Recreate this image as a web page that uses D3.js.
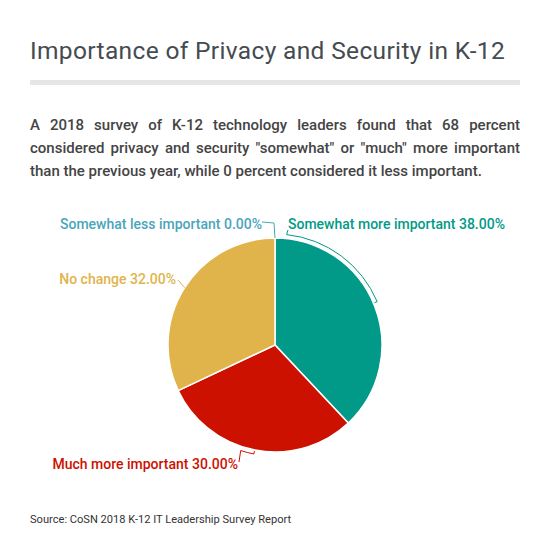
<!DOCTYPE html>
<html>
<head>
<meta charset="utf-8">
<script src="https://cdn.jsdelivr.net/npm/d3@7"></script>
<style>
  body { margin: 0; background: #fff; font-family: Roboto, sans-serif; }
  #wrap { position: relative; width: 550px; height: 560px; }
  #title { position: absolute; left: 30px; top: 36px; font-size: 24.5px; font-weight: 400; letter-spacing: 0.35px; color: #454b51; white-space: nowrap; }
  #rule { position: absolute; left: 30px; top: 80px; width: 490px; height: 5px; background: #e6e6e6; }
  #desc { position: absolute; left: 30px; top: 114px; width: 490px; font-size: 15px; font-weight: 500; line-height: 23px; color: #444; text-align: justify; }
  #source { position: absolute; left: 30px; top: 513px; font-size: 11.1px; color: #333; }
  #chart { position: absolute; left: 0; top: 0; }
</style>
</head>
<body>
<div id="wrap">
  <div id="title">Importance of Privacy and Security in K-12</div>
  <div id="rule"></div>
  <div id="desc">A 2018 survey of K-12 technology leaders found that 68 percent considered privacy and security "somewhat" or "much" more important than the previous year, while 0 percent considered it less important.</div>
  <svg id="chart" width="550" height="560"></svg>
  <div id="source">Source: CoSN 2018 K-12 IT Leadership Survey Report</div>
</div>
<script>
document.addEventListener("DOMContentLoaded", function () {
  // data
  const categories = ["Somewhat more important", "Much more important", "No change", "Somewhat less important"];
  const values = [38, 30, 32, 0];
  const colors = ["#019a88", "#cc1100", "#e0b44b", "#4aa5bb"];

  const cx = 275, cy = 345, radius = 107;

  const svg = d3.select("#chart");
  const g = svg.append("g").attr("transform", `translate(${cx},${cy})`);

  const pie = d3.pie().sort(null).value((d) => d.value);
  const arcs = pie(categories.map((c, i) => ({ name: c, value: values[i], color: colors[i] })));

  const arc = d3.arc().innerRadius(0).outerRadius(radius);

  g.selectAll("path.slice")
    .data(arcs.filter((d) => d.data.value > 0))
    .enter()
    .append("path")
    .attr("class", "slice")
    .attr("d", arc)
    .attr("fill", (d) => d.data.color)
    .attr("stroke", "#fff")
    .attr("stroke-width", 1.5);

  const deg = Math.PI / 180;
  const pt = (a, r) => [r * Math.sin(a), -r * Math.cos(a)];

  // label placement per slice: text anchor point and leader style
  const layout = [
    { x: 288, y: 229, anchor: "start", bracket: [6, 67] },
    { x: 238, y: 469, anchor: "end", bracket: [191, 198], end: "left" },
    { x: 176, y: 284, anchor: "end", line: true },
    { x: 262, y: 229, anchor: "end", elbow: true }
  ];

  arcs.forEach((d, i) => {
    const L = layout[i];
    const color = d.data.color;
    const lx = L.x - cx, ly = L.y - cy;
    let path = "";
    if (L.bracket) {
      const r = radius + 4;
      const a1 = L.bracket[0] * deg, a2 = L.bracket[1] * deg;
      const p1 = pt(a1, r), p2 = pt(a2, r), p3 = pt(a2, r - 3), p0 = pt(a1, r - 3);
      const bArc = d3.path();
      if (L.end === "left") {
        // label hooks onto the later end of the arc
        bArc.moveTo(lx + 1, ly - 7);
        bArc.lineTo(p2[0], p2[1]);
        bArc.arc(0, 0, r, a2 - Math.PI / 2, a1 - Math.PI / 2, true);
        bArc.lineTo(p0[0], p0[1]);
      } else {
        bArc.moveTo(lx, ly + 1);
        bArc.lineTo(p1[0], p1[1]);
        bArc.arc(0, 0, r, a1 - Math.PI / 2, a2 - Math.PI / 2, false);
        bArc.lineTo(p3[0], p3[1]);
      }
      path = bArc.toString();
    } else if (L.line) {
      const mid = (d.startAngle + d.endAngle) / 2;
      const p = pt(mid, radius);
      path = `M${lx + 2},${ly - 4}L${p[0]},${p[1]}`;
    } else if (L.elbow) {
      const p = pt(d.startAngle, radius);
      path = `M${lx},${ly - 7}L${p[0] - 1},${ly - 6}L${p[0]},${p[1]}`;
    }
    g.append("path")
      .attr("d", path)
      .attr("fill", "none")
      .attr("stroke", color)
      .attr("stroke-width", 1);

    g.append("text")
      .attr("x", lx)
      .attr("y", ly)
      .attr("text-anchor", L.anchor)
      .attr("fill", color)
      .style("font-size", "14px")
      .style("font-weight", 500)
      .style("font-family", "Roboto, sans-serif")
      .text(`${d.data.name} ${d.data.value.toFixed(2)}%`);
  });
});
</script>
</body>
</html>
